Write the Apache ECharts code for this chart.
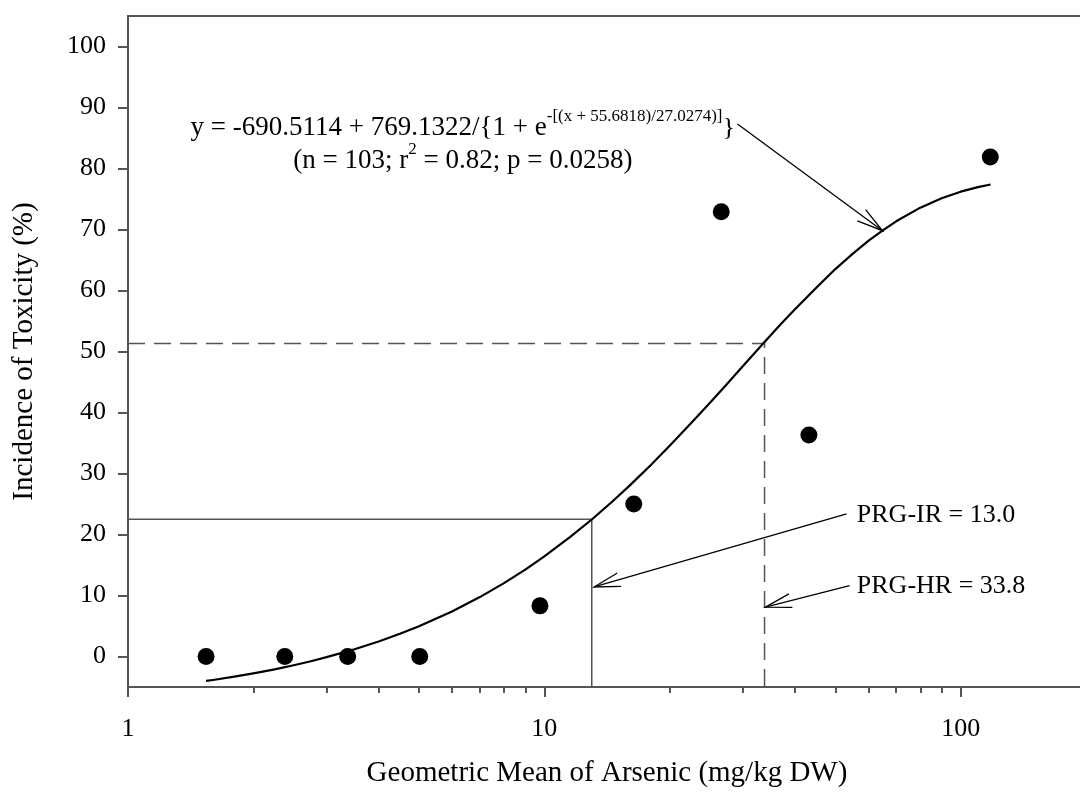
<!DOCTYPE html>
<html>
<head>
<meta charset="utf-8">
<script src="https://cdn.jsdelivr.net/npm/echarts@6/dist/echarts.min.js"></script>
<style>
html,body{margin:0;padding:0;background:#fff;}
#chart{width:1080px;height:797px;}
</style>
</head>
<body>
<div id="chart"></div>
<script>
// ---- data ----
const xTickLabels = [1, 10, 100];
const xMinorTicks = [2, 3, 4, 5, 6, 7, 8, 9, 20, 30, 40, 50, 60, 70, 80, 90];
const yTickLabels = [0, 10, 20, 30, 40, 50, 60, 70, 80, 90, 100];

const obsX = [1.54, 2.38, 3.37, 5.02, 9.76, 16.4, 26.6, 43.2, 117.8];
const obsY = [0, 0, 0, 0, 8.3, 25.0, 72.9, 36.3, 81.9];

const fitX = [1.54, 1.6, 1.8, 2, 2.25, 2.5, 2.75, 3, 3.5, 4, 4.5, 5, 6, 7, 8, 9, 10, 11.5, 13, 14.5, 16, 18, 20, 22.5, 25, 27.5, 30, 33.8, 37, 40, 45, 50, 55, 60, 65, 70, 80, 90, 100, 110, 118];
const fitY = [-4.01, -3.85, -3.31, -2.77, -2.10, -1.43, -0.77, -0.11, 1.18, 2.46, 3.72, 4.97, 7.39, 9.74, 12.03, 14.25, 16.40, 19.52, 22.46, 25.29, 27.97, 31.36, 34.54, 38.24, 41.61, 44.73, 47.62, 51.55, 54.51, 56.94, 60.44, 63.51, 66.01, 68.12, 69.87, 71.34, 73.58, 75.12, 76.20, 76.95, 77.38];

const prgIR = [13.0, 22.5];
const prgHR = [33.8, 51.3];

// arrows: [fromX, fromY, toX, toY]
const arrowEq = [29.1, 87.3, 64.9, 69.8];
const arrowIR = [53.2, 23.4, 13.17, 11.4];
const arrowHR = [54.1, 11.6, 33.96, 8.1];

// text anchors
const eqLine1Pos = [6.37, 86.6];
const eqLine2Pos = [6.37, 81.3];
const irLabelPos = [56.3, 23.1];
const hrLabelPos = [56.3, 11.6];
const irLabel = 'PRG-IR = 13.0';
const hrLabel = 'PRG-HR = 33.8';

const FONT = "'Liberation Serif', 'Times New Roman', serif";
const AX = '#555555';

const chart = echarts.init(document.getElementById('chart'), null, {renderer: 'canvas'});

function arrowItem(params, api) {
  const p0 = api.coord([api.value(0), api.value(1)]);
  const p1 = api.coord([api.value(2), api.value(3)]);
  const ang = Math.atan2(p0[1] - p1[1], p0[0] - p1[0]);
  const L = 27, a = 15 * Math.PI / 180;
  const b1 = [p1[0] + L * Math.cos(ang + a), p1[1] + L * Math.sin(ang + a)];
  const b2 = [p1[0] + L * Math.cos(ang - a), p1[1] + L * Math.sin(ang - a)];
  const st = {stroke: '#000', lineWidth: 1.3, fill: null};
  return {
    type: 'group',
    children: [
      {type: 'line', shape: {x1: p0[0], y1: p0[1], x2: p1[0], y2: p1[1]}, style: st},
      {type: 'polyline', shape: {points: [b1, p1, b2]}, style: st}
    ]
  };
}

function textItem(params, api) {
  const p = api.coord([api.value(0), api.value(1)]);
  const kind = api.value(2);
  const base = {fontFamily: FONT, fontSize: 26, fill: '#000'};
  const rich = {
    m: {fontFamily: FONT, fontSize: 27, lineHeight: 40, fill: '#000'},
    s: {fontFamily: FONT, fontSize: 17, lineHeight: 17, verticalAlign: 'top', fill: '#000'}
  };
  if (kind === 0) {
    return {type: 'text', x: p[0], y: p[1], style: Object.assign({}, base, {
      text: '{m|y = -690.5114 + 769.1322/{1 + e}{s|-[(x + 55.6818)/27.0274)]}{m|}}',
      align: 'center', verticalAlign: 'middle', rich: rich
    })};
  }
  if (kind === 1) {
    return {type: 'text', x: p[0], y: p[1], style: Object.assign({}, base, {
      text: '{m|(n = 103; r}{s|2}{m| = 0.82; p = 0.0258)}',
      align: 'center', verticalAlign: 'middle', rich: rich
    })};
  }
  const txt = kind === 2 ? irLabel : hrLabel;
  return {type: 'text', x: p[0], y: p[1], style: Object.assign({}, base, {
    text: txt, align: 'left', verticalAlign: 'middle'
  })};
}

const option = {
  animation: false,
  backgroundColor: '#fff',
  grid: {left: 128, top: 16, right: -6, bottom: 110, containLabel: false, outerBoundsMode: 'none',
    show: true, borderColor: AX, borderWidth: 2, backgroundColor: 'transparent'},
  xAxis: [{
    type: 'log', logBase: 10, min: 1, max: 200,
    name: 'Geometric Mean of Arsenic (mg/kg DW)', nameLocation: 'middle', nameGap: 72,
    nameTextStyle: {fontFamily: FONT, fontSize: 29, color: '#000'},
    axisLine: {show: true, onZero: false, lineStyle: {color: AX, width: 2}},
    axisTick: {show: true, inside: false, length: 10, lineStyle: {color: AX, width: 2}, customValues: xTickLabels},
    axisLabel: {fontFamily: FONT, fontSize: 26, color: '#000', margin: 29, customValues: xTickLabels,
      formatter: v => xTickLabels.indexOf(Math.round(v)) >= 0 ? String(Math.round(v)) : ''},
    splitLine: {show: false},
    minorTick: {show: false}
  }, {
    type: 'log', logBase: 10, min: 1, max: 200, position: 'bottom', gridIndex: 0,
    axisLine: {show: false, onZero: false},
    axisTick: {show: true, inside: false, length: 6, lineStyle: {color: AX, width: 2}, customValues: xMinorTicks},
    axisLabel: {show: false, customValues: xMinorTicks},
    splitLine: {show: false}
  }],
  yAxis: {
    type: 'value', min: -5, max: 105,
    name: 'Incidence of Toxicity (%)', nameLocation: 'middle', nameGap: 89,
    nameTextStyle: {fontFamily: FONT, fontSize: 29, color: '#000'},
    axisLine: {show: true, onZero: false, lineStyle: {color: AX, width: 2}},
    axisTick: {show: true, inside: false, length: 10, lineStyle: {color: AX, width: 2}, customValues: yTickLabels},
    axisLabel: {fontFamily: FONT, fontSize: 26, color: '#000', margin: 22, customValues: yTickLabels},
    splitLine: {show: false}
  },
  series: [
    {
      type: 'line', name: 'IR', xAxisIndex: 0,
      data: [[1, prgIR[1]], [prgIR[0], prgIR[1]], [prgIR[0], -5]],
      showSymbol: false, symbol: 'none',
      lineStyle: {color: AX, width: 1.5}, z: 2
    },
    {
      type: 'line', name: 'HR', xAxisIndex: 0,
      data: [[1, prgHR[1]], [prgHR[0], prgHR[1]], [prgHR[0], -5]],
      showSymbol: false, symbol: 'none',
      lineStyle: {color: AX, width: 1.5, type: [17, 9]}, z: 2
    },
    {
      type: 'line', name: 'fit', xAxisIndex: 0,
      data: fitX.map((x, i) => [x, fitY[i]]),
      showSymbol: false, symbol: 'none', smooth: false,
      lineStyle: {color: '#000', width: 2.2, join: 'round'}, z: 3
    },
    {
      type: 'scatter', name: 'obs', xAxisIndex: 0,
      data: obsX.map((x, i) => [x, obsY[i]]),
      symbol: 'circle', symbolSize: 17,
      itemStyle: {color: '#000', opacity: 1}, z: 4
    },
    {
      type: 'custom', name: 'arrows', xAxisIndex: 0, clip: false,
      renderItem: arrowItem,
      encode: {x: [0, 2], y: [1, 3]},
      data: [arrowEq, arrowIR, arrowHR], z: 5
    },
    {
      type: 'custom', name: 'texts', xAxisIndex: 0, clip: false,
      renderItem: textItem,
      encode: {x: 0, y: 1},
      data: [[eqLine1Pos[0], eqLine1Pos[1], 0], [eqLine2Pos[0], eqLine2Pos[1], 1],
             [irLabelPos[0], irLabelPos[1], 2], [hrLabelPos[0], hrLabelPos[1], 3]], z: 6
    }
  ]
};
chart.setOption(option);
</script>
</body>
</html>
